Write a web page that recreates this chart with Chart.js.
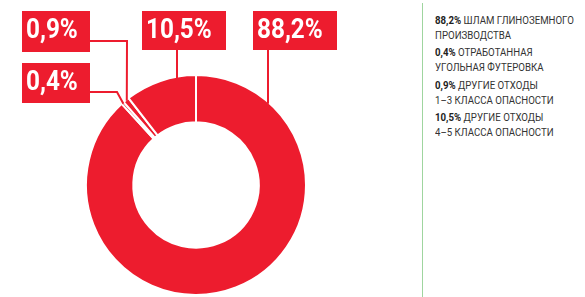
<!DOCTYPE html>
<html lang="ru">
<head>
<meta charset="utf-8">
<script src="https://cdn.jsdelivr.net/npm/chart.js@4/dist/chart.umd.min.js"></script>
<style>
  body { margin: 0; background: #fff; }
  #wrap { position: relative; width: 585px; height: 297px; overflow: hidden; }
  #chartBox { position: absolute; left: 0; top: 0; width: 420px; height: 297px; }
  #legend {
    position: absolute; left: 422px; top: 3px; bottom: 0; width: 162px;
    border-left: 1.5px solid #9fd59f;
    padding: 9.5px 0 0 12px; box-sizing: border-box;
  }
  #legendInner {
    transform: scaleX(0.84); transform-origin: 0 0;
    font-family: Roboto, "Noto Sans", sans-serif;
    font-size: 11.5px; line-height: 15px; color: #333;
  }
  .legend-item { margin-bottom: 2.5px; white-space: nowrap; }
  .legend-item b { color: #222; font-weight: 700; }
</style>
</head>
<body>
<div id="wrap">
  <div id="chartBox"><canvas id="wasteChart"></canvas></div>
  <div id="legend"><div id="legendInner"></div></div>
</div>
<script>
// Данные диаграммы
const categories = [
  ['ШЛАМ ГЛИНОЗЕМНОГО', 'ПРОИЗВОДСТВА'],
  ['ОТРАБОТАННАЯ', 'УГОЛЬНАЯ ФУТЕРОВКА'],
  ['ДРУГИЕ ОТХОДЫ', '1–3 КЛАССА ОПАСНОСТИ'],
  ['ДРУГИЕ ОТХОДЫ', '4–5 КЛАССА ОПАСНОСТИ']
];
const shares = [88.2, 0.4, 0.9, 10.5];

const red = '#ed1c2e';

// Положение подписей (только оформление)
const calloutBoxes = [
  { x: 253, y: 11, w: 84, h: 39, lineX: 268 },          // 88,2%
  { x: 22, y: 63, w: 68, h: 40, side: 'left', lineY: 92, elbowX: 117 },   // 0,4%
  { x: 22, y: 11, w: 68, h: 41, side: 'left', lineY: 41, elbowX: 127 },   // 0,9%
  { x: 142, y: 11, w: 84, h: 39, lineX: 177 }           // 10,5%
];

function fmt(v) {
  return v.toFixed(1).replace('.', ',') + '%';
}

// Легенда справа
const legendEl = document.getElementById('legendInner');
let legendHTML = '';
categories.forEach((lines, i) => {
  legendHTML += `<div class="legend-item"><b>${fmt(shares[i])}</b> ${lines[0]}<br>${lines[1]}</div>`;
});
legendEl.innerHTML = legendHTML;

// Выноски с процентами
const calloutPlugin = {
  id: 'callouts',
  afterDraw(chart) {
    const ctx = chart.ctx;
    const arcs = chart.getDatasetMeta(0).data;
    ctx.save();
    ctx.strokeStyle = red;
    ctx.lineWidth = 2;
    arcs.forEach((arc, i) => {
      const box = calloutBoxes[i];
      const p = arc.getProps(['x', 'y', 'startAngle', 'endAngle', 'outerRadius'], true);
      const R = p.outerRadius;
      ctx.beginPath();
      if (box.side === 'left') {
        const mid = (p.startAngle + p.endAngle) / 2;
        const ax = p.x + Math.cos(mid) * (R - 1);
        const ay = p.y + Math.sin(mid) * (R - 1);
        ctx.moveTo(box.x + box.w, box.lineY);
        ctx.lineTo(box.elbowX, box.lineY);
        ctx.lineTo(ax, ay);
      } else {
        const dx = box.lineX - p.x;
        const ay = p.y - Math.sqrt(R * R - dx * dx) + 2;
        ctx.moveTo(box.lineX, box.y + box.h);
        ctx.lineTo(box.lineX, ay);
      }
      ctx.stroke();
    });
    arcs.forEach((arc, i) => {
      const box = calloutBoxes[i];
      ctx.fillStyle = red;
      ctx.fillRect(box.x, box.y, box.w, box.h);
      ctx.save();
      ctx.translate(box.x + 4, box.y + 27);
      ctx.scale(0.9, 1);
      ctx.fillStyle = '#fff';
      ctx.font = 'bold 27px Roboto, "Noto Sans", sans-serif';
      ctx.textBaseline = 'alphabetic';
      ctx.textAlign = 'left';
      ctx.fillText(fmt(shares[i]), 0, 0);
      ctx.restore();
    });
    ctx.restore();
  }
};

const ctx = document.getElementById('wasteChart').getContext('2d');
const wasteChart = new Chart(ctx, {
  type: 'doughnut',
  data: {
    labels: categories.map(c => c.join(' ')),
    datasets: [{
      data: shares,
      backgroundColor: red,
      borderColor: '#ffffff',
      borderWidth: 2
    }]
  },
  options: {
    responsive: true,
    maintainAspectRatio: false,
    animation: false,
    cutout: '57%',
    layout: { padding: { left: 85, right: 113, top: 74, bottom: 1 } },
    plugins: {
      legend: { display: false },
      tooltip: { enabled: false }
    }
  },
  plugins: [calloutPlugin]
});
</script>
</body>
</html>
